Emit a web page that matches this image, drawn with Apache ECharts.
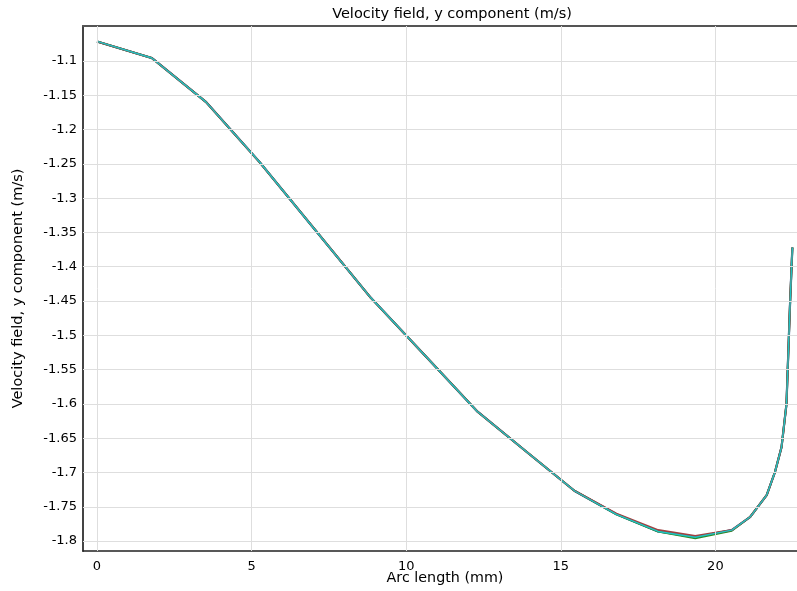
<!DOCTYPE html>
<html>
<head>
<meta charset="utf-8">
<script src="https://cdn.jsdelivr.net/npm/echarts@6/dist/echarts.min.js"></script>
<style>
  html, body { margin: 0; padding: 0; background: #fff; }
  #chart { width: 797px; height: 591px; }
</style>
</head>
<body>
<div id="chart"></div>
<script>
// arc length (mm)
var arcLength = [0, 1.77, 3.52, 5.25, 7.05, 8.85, 10.6, 12.3, 13.95, 15.45, 16.8, 18.15, 19.35, 20.53, 21.12, 21.66, 21.93, 22.14, 22.3, 22.41, 22.49];
// velocity y component (m/s), several nearly coincident lines
var vyBlue  = [-1.0715, -1.0956, -1.1596, -1.247, -1.346, -1.445, -1.529, -1.611, -1.672, -1.727, -1.761, -1.786, -1.7945, -1.784, -1.765, -1.733, -1.699, -1.663, -1.600, -1.460, -1.372];
var vyGreen = [-1.0715, -1.0956, -1.1596, -1.247, -1.346, -1.445, -1.529, -1.611, -1.672, -1.727, -1.761, -1.786, -1.796, -1.785, -1.765, -1.733, -1.699, -1.663, -1.600, -1.460, -1.372];
var vyRed   = [-1.0715, -1.0956, -1.1596, -1.247, -1.346, -1.445, -1.529, -1.611, -1.672, -1.727, -1.760, -1.784, -1.7925, -1.784, -1.765, -1.733, -1.699, -1.663, -1.600, -1.460, -1.372];
var vyCyan  = [-1.0715, -1.0956, -1.1596, -1.247, -1.346, -1.445, -1.529, -1.611, -1.672, -1.727, -1.761, -1.786, -1.7945, -1.784, -1.765, -1.733, -1.699, -1.663, -1.600, -1.460, -1.372];

// tick labels
var xTicks = [0, 5, 10, 15, 20];
var yTicks = [-1.8, -1.75, -1.7, -1.65, -1.6, -1.55, -1.5, -1.45, -1.4, -1.35, -1.3, -1.25, -1.2, -1.15, -1.1];

function pairs(ys) {
  return arcLength.map(function (x, i) { return [x, ys[i]]; });
}

var font = 'DejaVu Sans';
var myChart = echarts.init(document.getElementById('chart'));
var option = {
  animation: false,
  textStyle: { fontFamily: font },
  title: [{
    text: 'Velocity field, y component (m/s)',
    left: 447, top: 2, textAlign: 'center',
    textStyle: { fontFamily: font, fontSize: 14.5, fontWeight: 'normal', color: '#000' }
  }, {
    // x axis name
    text: 'Arc length (mm)',
    left: 445, top: 571, padding: 0, textAlign: 'center',
    textStyle: { fontFamily: font, fontSize: 14.3, fontWeight: 'normal', color: '#000' }
  }],
  grid: { left: 83, top: 26, right: 0, bottom: 40, containLabel: false, outerBoundsMode: 'none' },
  xAxis: [{
    type: 'value',
    min: -0.453, max: 22.64,
    axisLine: { onZero: false, lineStyle: { color: '#222', width: 1.5 } },
    axisTick: { inside: true, length: 7, customValues: xTicks, lineStyle: { color: '#000' } },
    axisLabel: { customValues: xTicks, margin: 9, fontSize: 13, color: '#000', fontFamily: font },
    splitLine: { show: false }
  }, {
    type: 'value', position: 'top',
    min: -0.453, max: 22.64,
    axisLine: { onZero: false, lineStyle: { color: '#555', width: 2 } },
    axisTick: { inside: true, length: 7, customValues: xTicks, lineStyle: { color: '#000' } },
    axisLabel: { show: false },
    splitLine: { show: false }
  }],
  yAxis: {
    type: 'value',
    min: -1.8145, max: -1.049,
    name: 'Velocity field, y component (m/s)',
    nameLocation: 'middle', nameGap: 57,
    nameTextStyle: { fontFamily: font, fontSize: 14.5, color: '#000' },
    axisLine: { show: true, onZero: false, lineStyle: { color: '#444', width: 2 } },
    axisTick: { inside: true, length: 7, customValues: yTicks, lineStyle: { color: '#000' } },
    axisLabel: {
      customValues: yTicks, margin: 6, fontSize: 13, color: '#000', fontFamily: font,
      formatter: function (v) { return String(parseFloat(v.toFixed(2))); }
    },
    splitLine: { show: false }
  },
  series: [
    {
      type: 'line', data: [], silent: true,
      markLine: {
        symbol: 'none', silent: true, label: { show: false },
        lineStyle: { color: '#dedede', type: 'solid', width: 1 },
        data: xTicks.map(function (v) { return { xAxis: v }; })
          .concat(yTicks.map(function (v) { return { yAxis: v }; }))
      }
    },
    { type: 'line', data: pairs(vyBlue), showSymbol: false, lineStyle: { color: '#1a3a8a', width: 2.2 } },
    { type: 'line', data: pairs(vyGreen), showSymbol: false, lineStyle: { color: '#2a8a2a', width: 2 } },
    { type: 'line', data: pairs(vyRed), showSymbol: false, lineStyle: { color: '#a04040', width: 2 } },
    { type: 'line', data: pairs(vyCyan), showSymbol: false, lineStyle: { color: '#1ec4c4', width: 1.4 } }
  ]
};
myChart.setOption(option);
</script>
</body>
</html>
